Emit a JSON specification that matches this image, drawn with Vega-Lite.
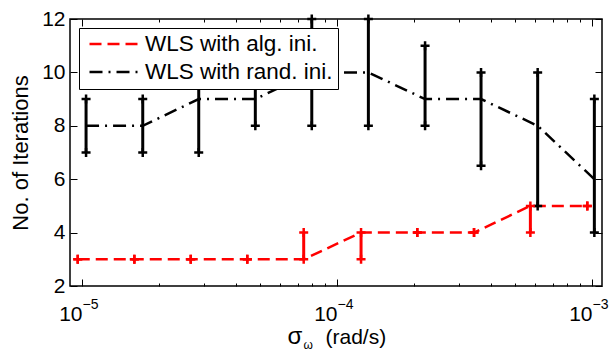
{
  "$schema": "https://vega.github.io/schema/vega-lite/v6.json",
  "width": 532,
  "height": 267,
  "autosize": {"type": "none"},
  "padding": {"left": 70, "top": 19, "right": 11, "bottom": 66},
  "background": "white",
  "config": {
    "view": {"stroke": "black", "strokeWidth": 1.5},
    "axis": {
      "domain": false,
      "grid": false,
      "tickColor": "black",
      "tickWidth": 1,
      "labelColor": "black",
      "titleColor": "black",
      "labelFont": "Liberation Sans",
      "titleFont": "Liberation Sans",
      "labelFontSize": 21,
      "titleFontSize": 21,
      "titleFontWeight": "normal"
    }
  },
  "data": {
    "values": [
      {"s": "WLS with alg. ini.", "x": 9.62e-6, "m": 3, "lo": 3, "hi": 3},
      {"s": "WLS with alg. ini.", "x": 1.604e-5, "m": 3, "lo": 3, "hi": 3},
      {"s": "WLS with alg. ini.", "x": 2.669e-5, "m": 3, "lo": 3, "hi": 3},
      {"s": "WLS with alg. ini.", "x": 4.447e-5, "m": 3, "lo": 3, "hi": 3},
      {"s": "WLS with alg. ini.", "x": 7.40e-5, "m": 3, "lo": 3, "hi": 4},
      {"s": "WLS with alg. ini.", "x": 1.242e-4, "m": 4, "lo": 3, "hi": 4},
      {"s": "WLS with alg. ini.", "x": 2.064e-4, "m": 4, "lo": 4, "hi": 4},
      {"s": "WLS with alg. ini.", "x": 3.445e-4, "m": 4, "lo": 4, "hi": 4},
      {"s": "WLS with alg. ini.", "x": 5.73e-4, "m": 5, "lo": 4, "hi": 5},
      {"s": "WLS with alg. ini.", "x": 9.58e-4, "m": 5, "lo": 5, "hi": 5},
      {"s": "WLS with rand. ini.", "x": 1.037e-5, "m": 8, "lo": 7, "hi": 9},
      {"s": "WLS with rand. ini.", "x": 1.730e-5, "m": 8, "lo": 7, "hi": 9},
      {"s": "WLS with rand. ini.", "x": 2.868e-5, "m": 9, "lo": 7, "hi": 11},
      {"s": "WLS with rand. ini.", "x": 4.781e-5, "m": 9, "lo": 8, "hi": 10},
      {"s": "WLS with rand. ini.", "x": 7.96e-5, "m": 10, "lo": 8, "hi": 12},
      {"s": "WLS with rand. ini.", "x": 1.327e-4, "m": 10, "lo": 8, "hi": 12},
      {"s": "WLS with rand. ini.", "x": 2.214e-4, "m": 9, "lo": 8, "hi": 11},
      {"s": "WLS with rand. ini.", "x": 3.670e-4, "m": 9, "lo": 6.5, "hi": 10},
      {"s": "WLS with rand. ini.", "x": 6.12e-4, "m": 8, "lo": 5, "hi": 10},
      {"s": "WLS with rand. ini.", "x": 1.021e-3, "m": 6, "lo": 4, "hi": 9}
    ]
  },
  "resolve": {"axis": {"x": "independent", "y": "independent"}},
  "layer": [
    {
      "mark": {"type": "line", "strokeWidth": 2.5},
      "encoding": {
        "x": {
          "field": "x", "type": "quantitative",
          "scale": {"type": "log", "domain": [8.97e-6, 1.094e-3], "nice": false},
          "axis": {
            "orient": "bottom", "values": [1e-5, 1e-4, 1e-3], "ticks": false,
            "labelExpr": "'10'", "labelAlign": "right", "labelDx": 1,
            "labelBaseline": "alphabetic", "labelPadding": 34, "labelFlush": false, "labelOverlap": false,
            "title": "σ", "titleFontSize": 24, "titleAlign": "left", "titleBaseline": "alphabetic", "titleY": 57, "titleX": 217
          }
        },
        "y": {
          "field": "m", "type": "quantitative",
          "scale": {"domain": [2, 12], "nice": false},
          "axis": {
            "orient": "left", "values": [2, 4, 6, 8, 10, 12], "tickSize": -7,
            "labelPadding": 12, "labelFlush": false,
            "title": "No. of Iterations", "titleFontSize": 22, "titleX": -43, "titleY": 133.5, "titleBaseline": "alphabetic"
          }
        },
        "color": {
          "field": "s", "type": "nominal",
          "scale": {"domain": ["WLS with alg. ini.", "WLS with rand. ini."], "range": ["#ff0000", "#000000"]},
          "legend": {
            "title": null, "orient": "top-left", "offset": 9, "strokeColor": "black", "fillColor": "white",
            "padding": 5, "symbolType": "stroke", "symbolSize": 2400, "symbolStrokeWidth": 2.5, "symbolOffset": 4,
            "clipHeight": 22, "labelFontSize": 22.5, "labelFont": "Liberation Sans", "labelColor": "black", "labelOffset": 5,
            "rowPadding": 5, "labelLimit": 400
          }
        },
        "strokeDash": {
          "field": "s", "type": "nominal",
          "scale": {"domain": ["WLS with alg. ini.", "WLS with rand. ini."], "range": [[12, 6], [13, 6, 2, 6]]},
          "legend": {
            "title": null, "orient": "top-left", "offset": 9, "strokeColor": "black", "fillColor": "white",
            "padding": 5, "symbolType": "stroke", "symbolSize": 2400, "symbolStrokeWidth": 2.5, "symbolOffset": 4,
            "clipHeight": 22, "labelFontSize": 22.5, "labelFont": "Liberation Sans", "labelColor": "black", "labelOffset": 5,
            "rowPadding": 5, "labelLimit": 400
          }
        }
      }
    },
    {
      "mark": {"type": "rule", "strokeWidth": 3},
      "encoding": {
        "x": {
          "field": "x", "type": "quantitative",
          "scale": {"type": "log", "domain": [8.97e-6, 1.094e-3], "nice": false},
          "axis": {
            "orient": "bottom", "values": [1e-5, 1e-4, 1e-3], "ticks": false,
            "labelExpr": "datum.value < 5e-5 ? '−5' : datum.value < 5e-4 ? '−4' : '−3'",
            "labelFontSize": 14, "labelAlign": "left", "labelDx": 2,
            "labelBaseline": "alphabetic", "labelPadding": 22, "labelFlush": false, "labelOverlap": false,
            "title": "ω", "titleFontSize": 12, "titleAlign": "left", "titleBaseline": "alphabetic", "titleY": 62, "titleX": 233
          }
        },
        "y": {
          "field": "lo", "type": "quantitative",
          "scale": {"domain": [2, 12], "nice": false},
          "axis": {"orient": "right", "values": [2, 4, 6, 8, 10, 12], "tickSize": -7, "labels": false, "title": null}
        },
        "y2": {"field": "hi"},
        "stroke": {
          "field": "s", "type": "nominal",
          "scale": {"domain": ["WLS with alg. ini.", "WLS with rand. ini."], "range": ["#ff0000", "#000000"]},
          "legend": null
        }
      }
    },
    {
      "mark": {"type": "point", "shape": "M-1,0L1,0M0,-1L0,1", "size": 81, "filled": false, "strokeWidth": 2.5, "opacity": 1},
      "encoding": {
        "x": {
          "field": "x", "type": "quantitative",
          "scale": {"type": "log", "domain": [8.97e-6, 1.094e-3], "nice": false},
          "axis": {
            "orient": "bottom",
            "values": [1e-5, 2e-5, 3e-5, 4e-5, 5e-5, 6e-5, 7e-5, 8e-5, 9e-5, 1e-4, 2e-4, 3e-4, 4e-4, 5e-4, 6e-4, 7e-4, 8e-4, 9e-4, 1e-3],
            "tickSize": {"condition": {"test": "abs(log(datum.value)/LN10 - round(log(datum.value)/LN10)) < 0.01", "value": -7}, "value": -3},
            "labels": false,
            "title": "(rad/s)", "titleAlign": "left", "titleBaseline": "alphabetic", "titleY": 57.5, "titleX": 255
          }
        },
        "y": {"field": "lo", "type": "quantitative", "scale": {"domain": [2, 12], "nice": false}, "axis": null},
        "stroke": {
          "field": "s", "type": "nominal",
          "scale": {"domain": ["WLS with alg. ini.", "WLS with rand. ini."], "range": ["#ff0000", "#000000"]},
          "legend": null
        }
      }
    },
    {
      "mark": {"type": "point", "shape": "M-1,0L1,0M0,-1L0,1", "size": 81, "filled": false, "strokeWidth": 2.5, "opacity": 1},
      "encoding": {
        "x": {
          "field": "x", "type": "quantitative",
          "scale": {"type": "log", "domain": [8.97e-6, 1.094e-3], "nice": false},
          "axis": {
            "orient": "top",
            "values": [1e-5, 2e-5, 3e-5, 4e-5, 5e-5, 6e-5, 7e-5, 8e-5, 9e-5, 1e-4, 2e-4, 3e-4, 4e-4, 5e-4, 6e-4, 7e-4, 8e-4, 9e-4, 1e-3],
            "tickSize": {"condition": {"test": "abs(log(datum.value)/LN10 - round(log(datum.value)/LN10)) < 0.01", "value": -7}, "value": -3},
            "labels": false, "title": null
          }
        },
        "y": {"field": "hi", "type": "quantitative", "scale": {"domain": [2, 12], "nice": false}, "axis": null},
        "stroke": {
          "field": "s", "type": "nominal",
          "scale": {"domain": ["WLS with alg. ini.", "WLS with rand. ini."], "range": ["#ff0000", "#000000"]},
          "legend": null
        }
      }
    }
  ]
}
